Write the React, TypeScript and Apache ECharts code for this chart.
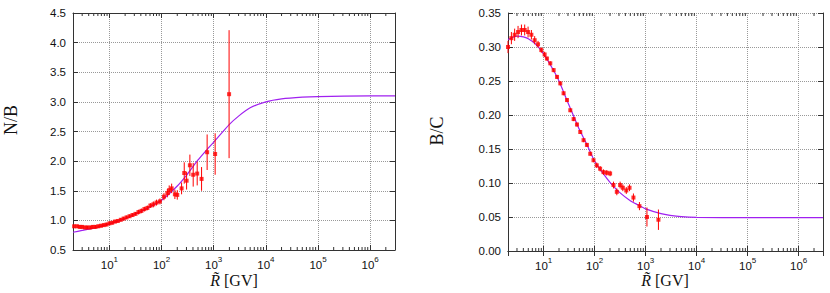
import React, { useEffect, useRef } from 'react';
import * as echarts from 'echarts';

// ---------- Left panel: N/B ----------
const nbR = [2.1, 2.4, 2.7, 3.0, 3.4, 3.8, 4.3, 4.8, 5.4, 6.1, 6.9, 7.8, 8.8, 10, 11.3, 12.8, 14.5, 16.5, 18.7, 21.3, 24.3, 27.7, 31.6, 36, 41, 46.8, 53.4, 61, 69.5, 80, 93, 111, 129, 140, 156, 180, 200, 242, 272, 302, 349, 404, 482, 585, 748, 1065, 1972];
const nbVal = [0.90, 0.90, 0.89, 0.89, 0.88, 0.88, 0.88, 0.89, 0.89, 0.90, 0.91, 0.92, 0.93, 0.95, 0.96, 0.98, 0.99, 1.01, 1.03, 1.05, 1.07, 1.09, 1.11, 1.14, 1.16, 1.19, 1.21, 1.25, 1.27, 1.30, 1.32, 1.40, 1.46, 1.51, 1.54, 1.44, 1.43, 1.54, 1.80, 1.67, 1.93, 1.77, 1.79, 1.70, 2.15, 2.12, 3.13];
const nbErr = [0.03, 0.03, 0.03, 0.03, 0.03, 0.03, 0.03, 0.03, 0.03, 0.03, 0.03, 0.03, 0.03, 0.03, 0.03, 0.03, 0.03, 0.03, 0.03, 0.03, 0.03, 0.03, 0.03, 0.04, 0.04, 0.04, 0.04, 0.04, 0.05, 0.05, 0.05, 0.06, 0.07, 0.08, 0.08, 0.08, 0.08, 0.10, 0.18, 0.15, 0.18, 0.20, 0.20, 0.20, 0.30, 0.35, 1.08];
const nbModelR = [2, 3, 5, 10, 20, 30, 50, 100, 200, 300, 500, 700, 1000, 2000, 3000, 5000, 1e4, 2e4, 5e4, 1e5, 1e6, 3e6];
const nbModelVal = [0.80, 0.83, 0.87, 0.94, 1.03, 1.10, 1.19, 1.34, 1.58, 1.76, 2.02, 2.17, 2.32, 2.62, 2.76, 2.90, 3.00, 3.05, 3.08, 3.09, 3.10, 3.10];

// ---------- Right panel: B/C ----------
const bcR = [2.0, 2.33, 2.7, 3.15, 3.67, 4.25, 4.95, 5.75, 6.67, 7.76, 9.0, 10.45, 11.6, 13.5, 15.7, 18.3, 21.2, 24.6, 28.7, 33.3, 38.7, 45, 52.2, 60.6, 70.5, 81.9, 95, 110, 128, 149, 173, 201, 234, 272, 316, 357, 417, 483, 576, 755, 1060, 1780];
const bcVal = [0.300, 0.313, 0.318, 0.322, 0.325, 0.325, 0.322, 0.318, 0.310, 0.304, 0.2955, 0.289, 0.283, 0.276, 0.266, 0.256, 0.2465, 0.232, 0.222, 0.207, 0.194, 0.186, 0.175, 0.163, 0.156, 0.143, 0.1335, 0.126, 0.121, 0.116, 0.115, 0.114, 0.097, 0.087, 0.097, 0.093, 0.089, 0.093, 0.0786, 0.066, 0.050, 0.046];
const bcErr = [0.009, 0.009, 0.009, 0.009, 0.008, 0.008, 0.008, 0.007, 0.006, 0.005, 0.004, 0.004, 0.003, 0.003, 0.003, 0.003, 0.003, 0.003, 0.003, 0.003, 0.003, 0.003, 0.003, 0.003, 0.003, 0.003, 0.003, 0.004, 0.004, 0.004, 0.004, 0.004, 0.005, 0.005, 0.005, 0.005, 0.005, 0.005, 0.006, 0.006, 0.014, 0.015];
const bcModelR = [2, 3, 4, 5, 7, 10, 15, 20, 30, 40, 50, 70, 100, 150, 200, 300, 500, 700, 1000, 2000, 3000, 5000, 1e4, 1e5, 3e6];
const bcModelVal = [0.311, 0.316, 0.315, 0.312, 0.304, 0.290, 0.268, 0.250, 0.218, 0.196, 0.179, 0.157, 0.132, 0.113, 0.101, 0.087, 0.074, 0.068, 0.062, 0.055, 0.0525, 0.0505, 0.0495, 0.049, 0.049];

// ---------- Axis ticks ----------
const xMin = 2;
const xMax = 3e6;
const minorMultipliers = [2, 3, 4, 5, 6, 7, 8, 9];
const decadeStarts = [1, 10, 100, 1000, 10000, 100000, 1000000];

const AXIS_COLOR = '#333';
const GRID_COLOR = '#999';
const POINT_COLOR = '#ff0000';
const MODEL_COLOR = '#a020f0';
const SANS = 'Liberation Sans';
const SERIF = 'Liberation Serif';

export default function App() {
  const ref = useRef<HTMLDivElement>(null);
  useEffect(() => {
    const chart = echarts.init(ref.current!, null, { renderer: 'svg' });

    const minorR: number[] = [];
    decadeStarts.forEach((d) => minorMultipliers.forEach((m) => {
      const v = d * m;
      if (v > xMin && v < xMax) minorR.push(v);
    }));

    const isDecade = (v: number) => {
      const l = Math.log10(v);
      return Math.abs(l - Math.round(l)) < 1e-6;
    };

    const xBottom = (gridIndex: number) => ({
      type: 'log', logBase: 10, gridIndex, position: 'bottom', min: xMin, max: xMax,
      axisLine: { show: true, lineStyle: { color: AXIS_COLOR, width: 1 } },
      axisTick: { show: true, inside: true, length: 5, lineStyle: { color: AXIS_COLOR } },
      splitLine: { show: true, lineStyle: { color: GRID_COLOR, type: 'dotted', width: 1 } },
      axisLabel: {
        interval: 0, margin: 5, showMinLabel: true, showMaxLabel: true,
        formatter: (v: number) => (isDecade(v) && v > xMin && v < xMax) ? `{b|10}{s|${Math.round(Math.log10(v))}}` : '',
        rich: {
          b: { fontSize: 11.5, fontFamily: SANS, color: '#111', verticalAlign: 'bottom', lineHeight: 16 },
          s: { fontSize: 8, fontFamily: SANS, color: '#111', verticalAlign: 'top', lineHeight: 16 },
        },
      },
    });
    const xTop = (gridIndex: number) => ({
      type: 'log', logBase: 10, gridIndex, position: 'top', min: xMin, max: xMax,
      axisLine: { show: true, lineStyle: { color: AXIS_COLOR, width: 1 } },
      axisTick: { show: true, inside: true, length: 5, lineStyle: { color: AXIS_COLOR } },
      splitLine: { show: false },
      axisLabel: { show: false },
    });
    const yLeft = (gridIndex: number, min: number, max: number, interval: number, dec: number) => ({
      type: 'value', gridIndex, position: 'left', min, max, interval,
      axisLine: { show: true, lineStyle: { color: AXIS_COLOR, width: 1 } },
      axisTick: { show: true, inside: true, length: 5, lineStyle: { color: AXIS_COLOR } },
      splitLine: { show: true, lineStyle: { color: GRID_COLOR, type: 'dotted', width: 1 } },
      axisLabel: { margin: 7, fontSize: 11.5, fontFamily: SANS, color: '#111', formatter: (v: number) => v.toFixed(dec) },
    });
    const yRight = (gridIndex: number, min: number, max: number, interval: number) => ({
      type: 'value', gridIndex, position: 'right', min, max, interval,
      axisLine: { show: true, lineStyle: { color: AXIS_COLOR, width: 1 } },
      axisTick: { show: true, inside: true, length: 5, lineStyle: { color: AXIS_COLOR } },
      splitLine: { show: false },
      axisLabel: { show: false },
    });

    const minorSeries = (xAxisIndex: number, yAxisIndex: number, yMin: number, yMax: number) => ({
      type: 'custom', xAxisIndex, yAxisIndex, silent: true, z: 3,
      data: minorR.map((r) => [r, yMin]),
      renderItem: (_p: any, api: any) => {
        const x = api.value(0);
        const b = api.coord([x, yMin]);
        const t = api.coord([x, yMax]);
        const st = { stroke: AXIS_COLOR, lineWidth: 1 };
        return {
          type: 'group',
          children: [
            { type: 'line', shape: { x1: b[0], y1: b[1], x2: b[0], y2: b[1] - 3 }, style: st },
            { type: 'line', shape: { x1: t[0], y1: t[1], x2: t[0], y2: t[1] + 3 }, style: st },
          ],
        };
      },
    });

    const errSeries = (xAxisIndex: number, yAxisIndex: number, R: number[], V: number[], E: number[]) => ({
      type: 'custom', xAxisIndex, yAxisIndex, silent: true, z: 4,
      data: R.map((r, i) => [r, V[i], E[i]]),
      encode: { x: 0, y: 1 },
      renderItem: (_p: any, api: any) => {
        const x = api.value(0), v = api.value(1), e = api.value(2);
        const lo = api.coord([x, v - e]);
        const hi = api.coord([x, v + e]);
        return { type: 'line', shape: { x1: lo[0], y1: lo[1], x2: hi[0], y2: hi[1] }, style: { stroke: POINT_COLOR, lineWidth: 1 } };
      },
    });

    const pointSeries = (xAxisIndex: number, yAxisIndex: number, R: number[], V: number[]) => ({
      type: 'scatter', xAxisIndex, yAxisIndex, z: 5, symbol: 'rect', symbolSize: 4,
      itemStyle: { color: POINT_COLOR },
      data: R.map((r, i) => [r, V[i]]),
    });

    const modelSeries = (xAxisIndex: number, yAxisIndex: number, R: number[], V: number[]) => ({
      type: 'line', xAxisIndex, yAxisIndex, z: 3, smooth: 0.2, showSymbol: false, symbol: 'none',
      lineStyle: { color: MODEL_COLOR, width: 1.2 },
      data: R.map((r, i) => [r, V[i]]),
    });

    const option: any = {
      animation: false,
      backgroundColor: '#fff',
      grid: [
        { left: 73, top: 13, width: 322, height: 237 },
        { left: 508, top: 13, width: 315, height: 238 },
      ],
      xAxis: [xBottom(0), xTop(0), xBottom(1), xTop(1)],
      yAxis: [yLeft(0, 0.5, 4.5, 0.5, 1), yRight(0, 0.5, 4.5, 0.5), yLeft(1, 0, 0.35, 0.05, 2), yRight(1, 0, 0.35, 0.05)],
      series: [
        minorSeries(0, 0, 0.5, 4.5),
        modelSeries(0, 0, nbModelR, nbModelVal),
        errSeries(0, 0, nbR, nbVal, nbErr),
        pointSeries(0, 0, nbR, nbVal),
        minorSeries(2, 2, 0, 0.35),
        modelSeries(2, 2, bcModelR, bcModelVal),
        errSeries(2, 2, bcR, bcVal, bcErr),
        pointSeries(2, 2, bcR, bcVal),
      ],
      graphic: [
        { type: 'text', x: 11, y: 120, rotation: Math.PI / 2, style: { text: 'N/B', font: `18px "${SERIF}"`, fill: '#111', align: 'center', verticalAlign: 'middle' } },
        { type: 'text', x: 437, y: 131, rotation: Math.PI / 2, style: { text: 'B/C', font: `18px "${SERIF}"`, fill: '#111', align: 'center', verticalAlign: 'middle' } },
        { type: 'text', x: 234, y: 280, style: { text: '{i|R\u0303} [GV]', font: `16px "${SERIF}"`, fill: '#111', align: 'center', verticalAlign: 'middle', rich: { i: { fontStyle: 'italic', fontSize: 16, fontFamily: SERIF } } } },
        { type: 'text', x: 665, y: 280, style: { text: '{i|R\u0303} [GV]', font: `16px "${SERIF}"`, fill: '#111', align: 'center', verticalAlign: 'middle', rich: { i: { fontStyle: 'italic', fontSize: 16, fontFamily: SERIF } } } },
      ],
    };

    chart.setOption(option);
    return () => chart.dispose();
  }, []);
  return <div ref={ref} style={{ position: 'absolute', left: 0, top: 0, width: 830, height: 293 }} />;
}
